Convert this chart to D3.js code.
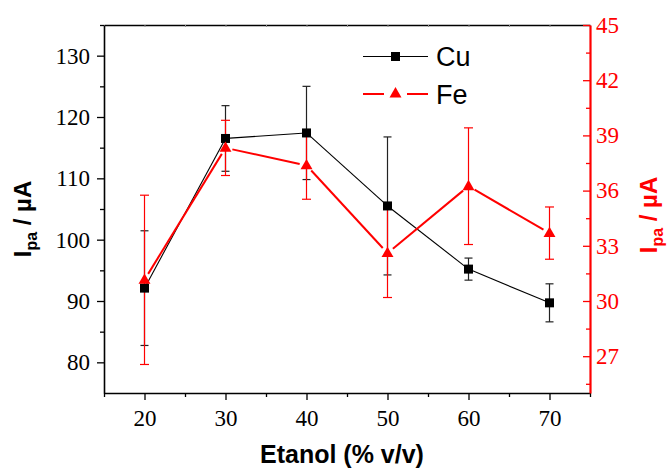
<!DOCTYPE html>
<html>
<head>
<meta charset="utf-8">
<script src="https://cdn.jsdelivr.net/npm/d3@7"></script>
<style>
  html, body { margin: 0; padding: 0; background: #fff; }
  svg { display: block; }
</style>
</head>
<body>
<svg id="chart" width="672" height="469"></svg>
<script>
// Ethanol content (% v/v) and anodic peak currents for each metal
const ethanol = [20, 30, 40, 50, 60, 70];
const cuValues = [92.1, 116.5, 117.4, 105.5, 95.2, 89.7];
const cuErrors = [9.35, 5.35, 7.6, 11.25, 1.8, 3.1];
const feValues = [31.15, 38.32, 37.37, 32.6, 36.24, 33.69];
const feErrors = [4.6, 1.5, 1.84, 2.41, 3.17, 1.42];

const xTicks = [20, 30, 40, 50, 60, 70];
const xMinor = [15, 25, 35, 45, 55, 65, 75];
const leftTicks = [80, 90, 100, 110, 120, 130];
const leftMinor = [85, 95, 105, 115, 125, 135];
const rightTicks = [27, 30, 33, 36, 39, 42, 45];
const rightMinor = [25.5, 28.5, 31.5, 34.5, 37.5, 40.5, 43.5];

const RED = "#ff0000";
const svg = d3.select("#chart");

const plot = { left: 104, right: 590, top: 25, bottom: 393 };

const x = d3.scaleLinear().domain([15, 75]).range([plot.left, plot.right]);
const yL = d3.scaleLinear().domain([75, 135]).range([plot.bottom, plot.top]);
const yR = d3.scaleLinear().domain([25, 45]).range([plot.bottom, plot.top]);

const tickFont = "'Liberation Serif', 'Times New Roman', serif";
const sansFont = "'Liberation Sans', Arial, sans-serif";

function styleAxis(g, color, width) {
  g.select(".domain").attr("stroke", color).attr("stroke-width", width);
  g.selectAll(".tick line").attr("stroke", color).attr("stroke-width", 1.3);
  g.selectAll(".tick text")
    .attr("fill", color)
    .attr("font-family", tickFont)
    .attr("font-size", 23);
}

// Minor ticks first (no labels)
svg.append("g")
  .attr("transform", `translate(0,${plot.bottom})`)
  .call(d3.axisBottom(x).tickValues(xMinor).tickSize(4).tickFormat(""))
  .call(g => { styleAxis(g, "#000", 1.5); g.select(".domain").remove(); });
svg.append("g")
  .attr("transform", `translate(${plot.left},0)`)
  .call(d3.axisLeft(yL).tickValues(leftMinor).tickSize(4).tickFormat(""))
  .call(g => { styleAxis(g, "#000", 1.5); g.select(".domain").remove(); });
svg.append("g")
  .attr("transform", `translate(${plot.right},0)`)
  .call(d3.axisLeft(yR).tickValues(rightMinor).tickSize(4).tickFormat(""))
  .call(g => { styleAxis(g, RED, 2); g.select(".domain").remove(); });

// Top frame with tiny inward ticks
svg.append("g")
  .attr("transform", `translate(0,${plot.top})`)
  .call(d3.axisBottom(x).tickValues(xTicks.concat(xMinor)).tickSize(2).tickSizeOuter(0).tickFormat(""))
  .call(g => { styleAxis(g, "#000", 1.6); g.selectAll(".tick line").attr("stroke", "#888").attr("stroke-width", 1); });

// Bottom axis
svg.append("g")
  .attr("transform", `translate(0,${plot.bottom})`)
  .call(d3.axisBottom(x).tickValues(xTicks).tickSize(7).tickSizeOuter(0).tickPadding(10).tickFormat(d3.format("d")))
  .call(g => styleAxis(g, "#000", 1.6));

// Left axis
svg.append("g")
  .attr("transform", `translate(${plot.left},0)`)
  .call(d3.axisLeft(yL).tickValues(leftTicks).tickSize(7).tickSizeOuter(0).tickPadding(7).tickFormat(d3.format("d")))
  .call(g => styleAxis(g, "#000", 1.6));

// Right axis (Fe) — ticks point inward, labels outside
const rightAxis = svg.append("g")
  .attr("transform", `translate(${plot.right},0)`)
  .call(d3.axisLeft(yR).tickValues(rightTicks).tickSize(7).tickSizeOuter(0).tickFormat(d3.format("d")))
  .call(g => styleAxis(g, RED, 2.2));
rightAxis.selectAll(".tick text").attr("x", 6).attr("text-anchor", "start");

// Error bars
function errorBars(vals, errs, yScale, color, halfCap, width) {
  const g = svg.append("g").attr("stroke", color).attr("stroke-width", width).attr("fill", "none");
  ethanol.forEach((e, i) => {
    const cx = x(e);
    const y1 = yScale(vals[i] - errs[i]);
    const y2 = yScale(vals[i] + errs[i]);
    g.append("line").attr("x1", cx).attr("x2", cx).attr("y1", y1).attr("y2", y2);
    g.append("line").attr("x1", cx - halfCap).attr("x2", cx + halfCap).attr("y1", y1).attr("y2", y1);
    g.append("line").attr("x1", cx - halfCap).attr("x2", cx + halfCap).attr("y1", y2).attr("y2", y2);
  });
}
errorBars(cuValues, cuErrors, yL, "#222", 4, 1.2);
errorBars(feValues, feErrors, yR, RED, 4.5, 1.2);

// Connecting lines, trimmed a little short of each symbol
function series(vals, yScale, color, width, gap) {
  const pts = ethanol.map((e, i) => [x(e), yScale(vals[i])]);
  const g = svg.append("g").attr("stroke", color).attr("stroke-width", width);
  for (let i = 0; i < pts.length - 1; i++) {
    const [x1, y1] = pts[i], [x2, y2] = pts[i + 1];
    const len = Math.hypot(x2 - x1, y2 - y1);
    const ux = (x2 - x1) / len, uy = (y2 - y1) / len;
    g.append("line")
      .attr("x1", x1 + ux * gap).attr("y1", y1 + uy * gap)
      .attr("x2", x2 - ux * gap).attr("y2", y2 - uy * gap);
  }
  return pts;
}
const cuPts = series(cuValues, yL, "#000", 1.1, 4.5);
const fePts = series(feValues, yR, RED, 2, 7);

const square = d3.symbol().type(d3.symbolSquare).size(81);
const triangle = d3.symbol().type(d3.symbolTriangle).size(62);

svg.append("g").selectAll("path").data(cuPts).join("path")
  .attr("d", square).attr("transform", d => `translate(${d[0]},${d[1]})`).attr("fill", "#000");
svg.append("g").selectAll("path").data(fePts).join("path")
  .attr("d", triangle).attr("transform", d => `translate(${d[0]},${d[1] + 0.5})`).attr("fill", RED);

// Legend
const legend = svg.append("g");
legend.append("line").attr("x1", 363).attr("x2", 428).attr("y1", 56.5).attr("y2", 56.5)
  .attr("stroke", "#000").attr("stroke-width", 1.1);
legend.append("path").attr("d", square).attr("transform", "translate(395.5,56.5)").attr("fill", "#000");
legend.append("text").attr("x", 436).attr("y", 66).text("Cu")
  .attr("font-family", sansFont).attr("font-size", 27).attr("fill", "#000");
legend.append("line").attr("x1", 363).attr("x2", 384).attr("y1", 94).attr("y2", 94)
  .attr("stroke", RED).attr("stroke-width", 2);
legend.append("line").attr("x1", 407).attr("x2", 428).attr("y1", 94).attr("y2", 94)
  .attr("stroke", RED).attr("stroke-width", 2);
legend.append("path").attr("d", triangle).attr("transform", "translate(395.5,94)").attr("fill", RED);
legend.append("text").attr("x", 436).attr("y", 104).text("Fe")
  .attr("font-family", sansFont).attr("font-size", 27).attr("fill", "#000");

// Axis titles
function currentTitle(tx, ty, color) {
  const t = svg.append("text")
    .attr("transform", `translate(${tx},${ty}) rotate(-90)`)
    .attr("text-anchor", "middle")
    .attr("font-family", sansFont).attr("font-weight", "bold")
    .attr("font-size", 24).attr("fill", color);
  t.append("tspan").text("I");
  t.append("tspan").attr("font-size", 16).attr("dy", 6).text("pa");
  t.append("tspan").attr("dy", -6).text(" / \u00b5A");
}
currentTitle(31, 219, "#000");
currentTitle(657, 215, RED);

svg.append("text")
  .attr("x", 342).attr("y", 463)
  .attr("text-anchor", "middle")
  .attr("font-family", sansFont).attr("font-weight", "bold")
  .attr("font-size", 25).attr("fill", "#000")
  .text("Etanol (% v/v)");
</script>
</body>
</html>
